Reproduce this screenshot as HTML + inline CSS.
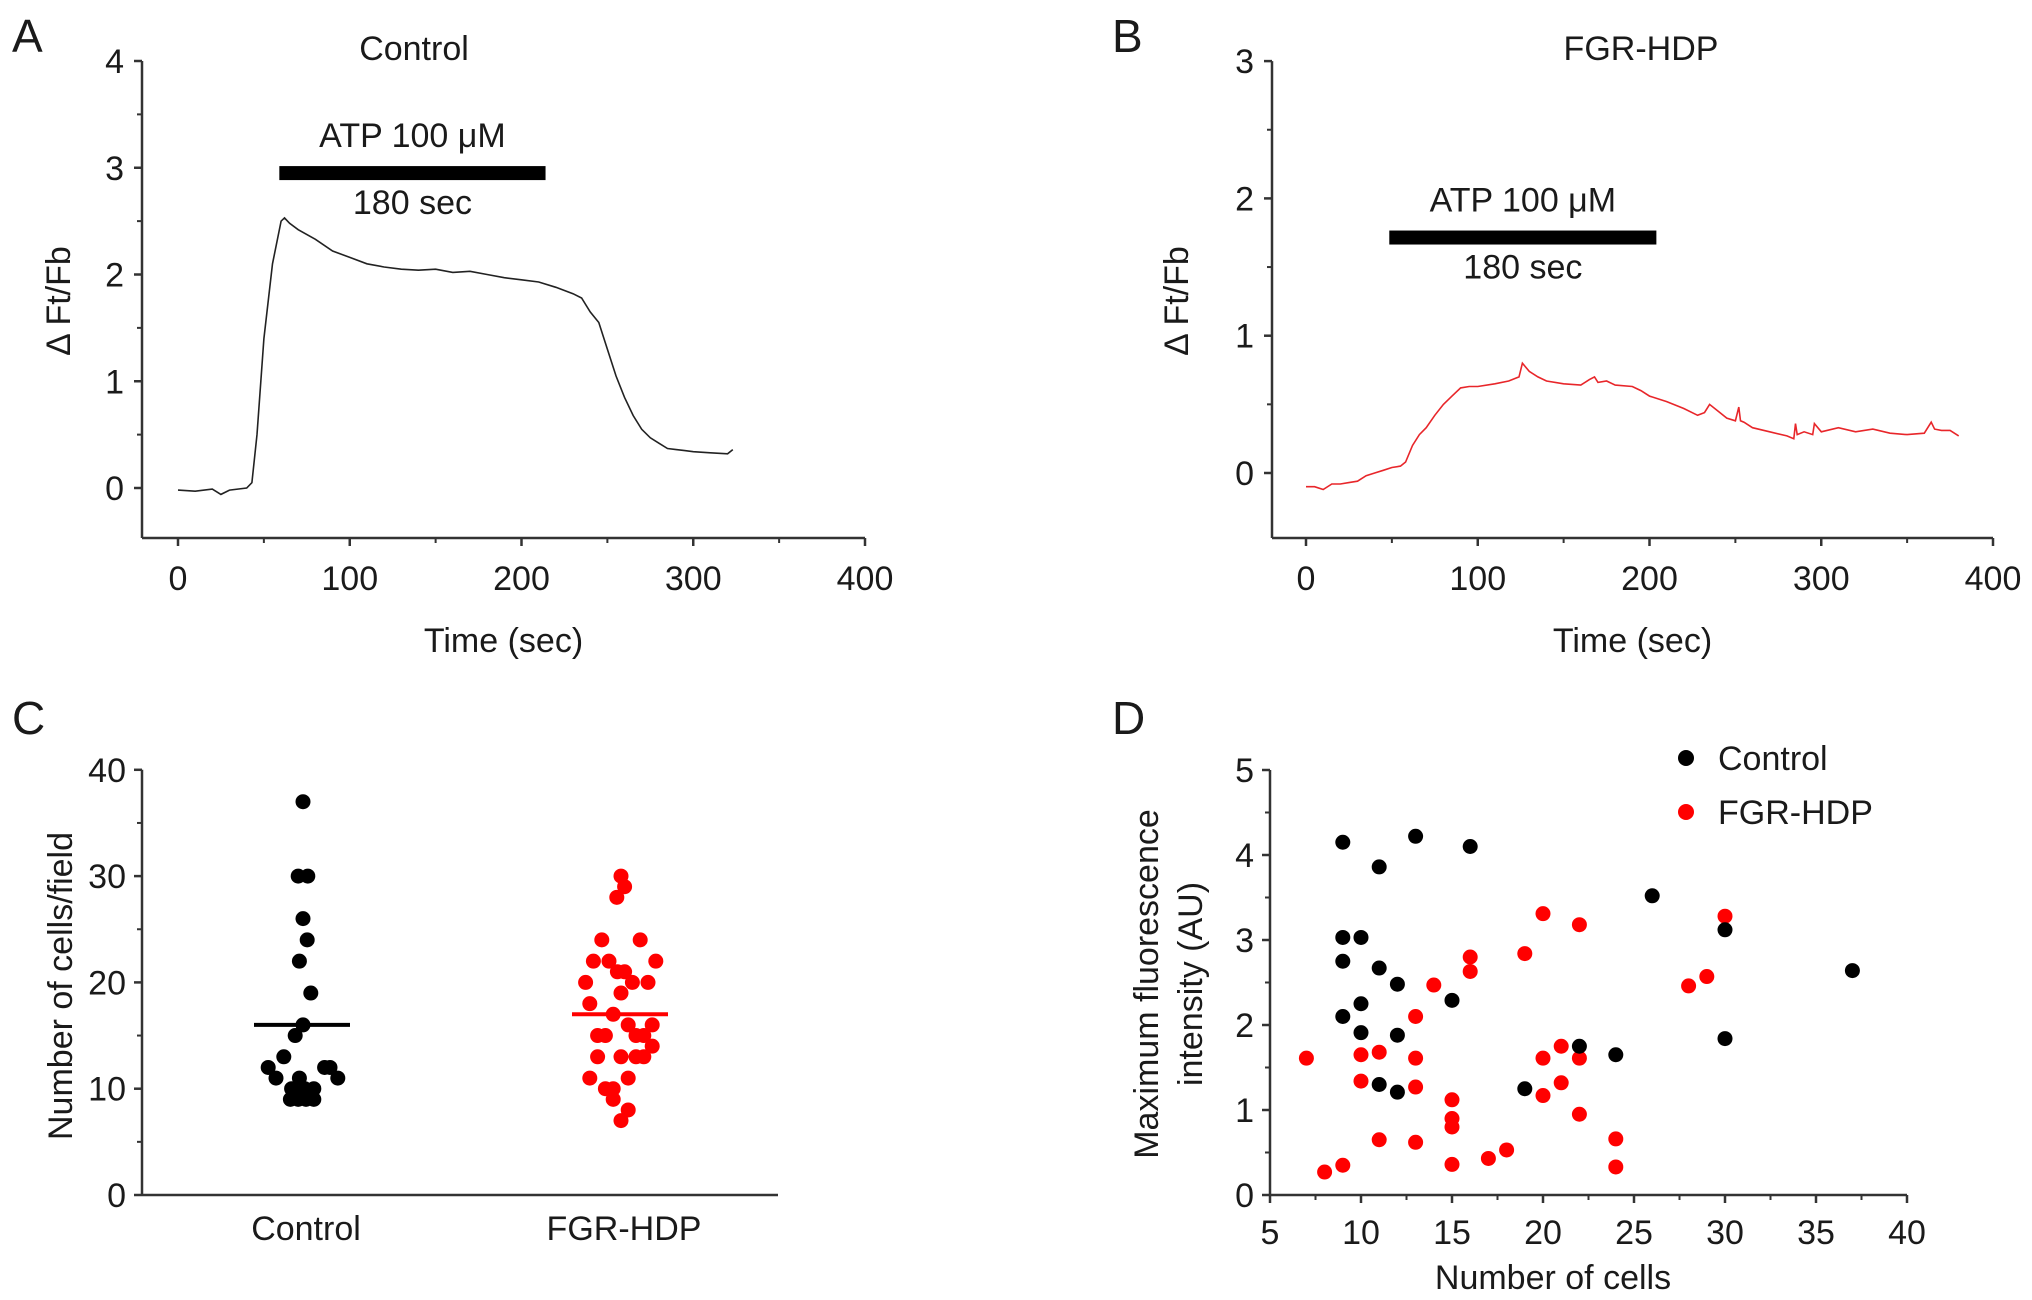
<!DOCTYPE html>
<html><head><meta charset="utf-8">
<style>
html,body{margin:0;padding:0;background:#fff;overflow:hidden;}
svg{display:block;font-family:"Liberation Sans",Arial,sans-serif;}
text{fill:#1a1a1a;}
</style></head>
<body>
<svg id="fig" width="2032" height="1300" viewBox="0 0 2032 1300" xmlns="http://www.w3.org/2000/svg">
<g id="root"></g>
</svg>
<script>
// ---------- Data ----------
const aTime = [0,10,20,25,30,40,43,46,50,55,60,62,65,70,80,90,100,110,120,130,140,150,160,170,180,190,200,210,220,230,235,240,245,250,255,260,265,270,275,280,285,290,295,300,310,320,323];
const aVal  = [-0.02,-0.03,-0.01,-0.06,-0.02,0,0.05,0.5,1.4,2.1,2.5,2.53,2.48,2.42,2.33,2.22,2.16,2.1,2.07,2.05,2.04,2.05,2.02,2.03,2.0,1.97,1.95,1.93,1.88,1.82,1.78,1.65,1.55,1.3,1.05,0.85,0.68,0.55,0.47,0.42,0.37,0.36,0.35,0.34,0.33,0.32,0.36];
const bTime = [0,5,10,15,20,25,30,35,40,45,50,55,58,62,66,70,75,80,85,90,95,100,110,118,124,126,130,135,140,150,160,165,168,170,175,180,190,195,200,210,220,228,232,235,240,245,250,252,253,255,260,270,280,284,285,286,290,295,296,300,310,320,330,340,350,360,364,366,370,375,380];
const bVal  = [-0.1,-0.1,-0.12,-0.08,-0.08,-0.07,-0.06,-0.02,0,0.02,0.04,0.05,0.08,0.2,0.28,0.33,0.42,0.5,0.56,0.62,0.63,0.63,0.65,0.67,0.7,0.8,0.74,0.7,0.67,0.65,0.64,0.68,0.7,0.66,0.67,0.64,0.63,0.6,0.56,0.52,0.47,0.42,0.44,0.5,0.45,0.4,0.38,0.48,0.38,0.37,0.33,0.3,0.27,0.25,0.36,0.28,0.3,0.28,0.36,0.3,0.33,0.3,0.32,0.29,0.28,0.29,0.37,0.32,0.31,0.31,0.27];
const xTicksAB = [0,100,200,300,400];
const yTicksA = [0,1,2,3,4];
const yTicksB = [0,1,2,3];
const cCategories = ["Control","FGR-HDP"];
const cControl = [37,30,30,26,24,22,19,16,15,13,12,12,12,11,11,11,10,10,10,9,9,9,9];
const cControlJitter = [0,-0.08,0.08,0,0.07,-0.06,0.13,0,-0.13,-0.32,-0.58,0.36,0.45,-0.45,-0.06,0.58,-0.19,0.03,0.18,-0.21,-0.08,0.05,0.18];
const cFgr = [30,29,28,24,24,22,22,22,21,21,20,20,20,19,18,17,16,16,15,15,15,15,14,13,13,13,13,11,11,10,10,9,8,7];
const cFgrJitter = [0,0.06,-0.07,-0.32,0.32,-0.46,-0.2,0.58,-0.06,0.06,-0.59,0.19,0.45,0,-0.52,-0.13,0.12,0.52,-0.39,-0.26,0.25,0.38,0.52,-0.39,0,0.25,0.38,-0.52,0.12,-0.26,-0.13,-0.13,0.12,0];
const cMeans = [16,17];
const yTicksC = [0,10,20,30,40];
const dCtrlX = [9,13,16,11,26,9,10,30,9,11,37,12,15,10,9,10,12,30,22,24,11,12,19];
const dCtrlY = [4.15,4.22,4.1,3.86,3.52,3.03,3.03,3.12,2.75,2.67,2.64,2.48,2.29,2.25,2.1,1.91,1.88,1.84,1.75,1.65,1.3,1.21,1.25];
const dFgrX = [7,8,9,10,10,11,11,13,13,13,13,14,15,15,15,15,16,16,17,18,19,20,20,20,21,21,22,22,22,24,24,28,29,30];
const dFgrY = [1.61,0.27,0.35,1.65,1.34,1.68,0.65,2.1,1.61,1.27,0.62,2.47,1.12,0.9,0.8,0.36,2.8,2.63,0.43,0.53,2.84,3.31,1.61,1.17,1.75,1.32,3.18,1.61,0.95,0.66,0.33,2.46,2.57,3.28];
const xTicksD = [5,10,15,20,25,30,35,40];
const yTicksD = [0,1,2,3,4,5];

const NS="http://www.w3.org/2000/svg";
const root=document.getElementById('root');
function el(tag,attrs,parent,txt){const e=document.createElementNS(NS,tag);for(const k in attrs)e.setAttribute(k,attrs[k]);if(txt!==undefined)e.textContent=txt;(parent||root).appendChild(e);return e;}
function grp(name){const g=el('g',{});


return g;}
const AX='#333';

function axesTrace(o){
  const g=grp(o.name);
  const X=v=>o.x0+(v-o.xmin)*o.xs, Y=v=>o.y0-(v)*o.ys;
  const ya=el('line',{x1:o.axX,y1:Y(o.ymax),x2:o.axX,y2:o.axBot,stroke:AX,'stroke-width':2.5},g);
  
  
  const xa=el('line',{x1:o.axX,y1:o.axBot,x2:X(o.xmax),y2:o.axBot,stroke:AX,'stroke-width':2.5},g);
  
  
  o.yTicks.forEach(v=>{
    el('line',{x1:o.axX-8,y1:Y(v),x2:o.axX,y2:Y(v),stroke:AX,'stroke-width':2.5},g);
    if(v+0.5<=o.ymax) el('line',{x1:o.axX-5,y1:Y(v+0.5),x2:o.axX,y2:Y(v+0.5),stroke:AX,'stroke-width':2},g);
    const t=el('text',{x:o.axX-18,y:Y(v)+12,'font-size':34,'text-anchor':'end'},g,String(v));
    
    
  });
  o.xTicks.forEach((v,i)=>{
    el('line',{x1:X(v),y1:o.axBot,x2:X(v),y2:o.axBot+8,stroke:AX,'stroke-width':2.5},g);
    if(i<o.xTicks.length-1) el('line',{x1:X(v+50),y1:o.axBot,x2:X(v+50),y2:o.axBot+5,stroke:AX,'stroke-width':2},g);
    const t=el('text',{x:X(v),y:590,'font-size':34,'text-anchor':'middle'},g,String(v));
    
    
  });
  const pts=o.tx.map((t,i)=>X(t).toFixed(1)+','+Y(o.ty[i]).toFixed(1)).join(' ');
  const pl=el('polyline',{points:pts,fill:'none',stroke:o.color,'stroke-width':1.6},g);
  
  
  const by=Y(o.barY);
  const bar=el('rect',{x:X(o.barT[0]),y:by-7,width:X(o.barT[1])-X(o.barT[0]),height:14,fill:'#000'},g);
  
  
  const cx=(X(o.barT[0])+X(o.barT[1]))/2;
  const t1=el('text',{x:cx,y:by-26,'font-size':34,'text-anchor':'middle'},g,'ATP 100 μM');
  
  
  const t2=el('text',{x:cx,y:by+41,'font-size':34,'text-anchor':'middle'},g,'180 sec');
  
  
  const tt=el('text',{x:o.titleX,y:60,'font-size':34,'text-anchor':'middle'},g,o.title);
  
  
  const xl=el('text',{x:(o.axX+X(o.xmax))/2,y:652,'font-size':34,'text-anchor':'middle'},g,'Time (sec)');
  
  
  const yl=el('text',{x:0,y:0,'font-size':34,'text-anchor':'middle',transform:`translate(${o.ylX},301) rotate(-90)`},g,'Δ Ft/Fb');
  
  
  const pl2=el('text',{x:o.letterX,y:52,'font-size':46},g,o.letter);
  
  
}

axesTrace({name:'panel-a',x0:178,xmin:0,xs:1.7175,y0:488,ys:106.75,axX:142,axBot:538,xmax:400,ymax:4,
  yTicks:yTicksA,xTicks:xTicksAB,tx:aTime,ty:aVal,color:'#222',barT:[59,214],barY:2.95,
  title:'Control',titleX:414,ylX:70,letter:'A',letterX:12});
axesTrace({name:'panel-b',x0:1306,xmin:0,xs:1.7175,y0:473,ys:137.3,axX:1272,axBot:538,xmax:400,ymax:3,
  yTicks:yTicksB,xTicks:xTicksAB,tx:bTime,ty:bVal,color:'#e8262a',barT:[48.5,204],barY:1.715,
  title:'FGR-HDP',titleX:1641,ylX:1188,letter:'B',letterX:1112});

// Panel C
(function(){
  const g=grp('panel-c');
  const axX=142,y0=1195,ys=10.63,xEnd=778;
  const Y=v=>y0-v*ys;
  const catX=[303,621], jw=60;
  el('line',{x1:axX,y1:Y(40),x2:axX,y2:y0,stroke:AX,'stroke-width':2.5},g);
  el('line',{x1:axX,y1:y0,x2:xEnd,y2:y0,stroke:AX,'stroke-width':2.5},g);
  yTicksC.forEach(v=>{
    el('line',{x1:axX-8,y1:Y(v),x2:axX,y2:Y(v),stroke:AX,'stroke-width':2.5},g);
    if(v<40) el('line',{x1:axX-5,y1:Y(v+5),x2:axX,y2:Y(v+5),stroke:AX,'stroke-width':2},g);
    const t=el('text',{x:axX-16,y:Y(v)+12,'font-size':34,'text-anchor':'end'},g,String(v));
    
    
  });
  cCategories.forEach((c,i)=>{
    const t=el('text',{x:catX[i]+3,y:1240,'font-size':34,'text-anchor':'middle'},g,c);
    
    
  });
  const series=[[cControl,cControlJitter,'#000'],[cFgr,cFgrJitter,'#f00']];
  series.forEach((s,i)=>{
    s[0].forEach((v,j)=>{
      const d=el('circle',{cx:catX[i]+s[1][j]*jw,cy:Y(v),r:7.5,fill:s[2]},g);
      
      
    });
    const m=el('line',{x1:catX[i]-49,y1:Y(cMeans[i]),x2:catX[i]+47,y2:Y(cMeans[i]),stroke:s[2],'stroke-width':4},g);
    
    
  });
  const yl=el('text',{x:0,y:0,'font-size':34,'text-anchor':'middle',transform:'translate(72,986) rotate(-90)'},g,'Number of cells/field');
  
  
  const pl=el('text',{x:12,y:734,'font-size':46},g,'C');
  
  
})();

// Panel D
(function(){
  const g=grp('panel-d');
  const axX=1270,y0=1195,ys=85,xs=18.2;
  const X=v=>axX+(v-5)*xs, Y=v=>y0-v*ys;
  el('line',{x1:axX,y1:Y(5),x2:axX,y2:y0,stroke:AX,'stroke-width':2.5},g);
  el('line',{x1:axX,y1:y0,x2:X(40),y2:y0,stroke:AX,'stroke-width':2.5},g);
  yTicksD.forEach(v=>{
    el('line',{x1:axX-8,y1:Y(v),x2:axX,y2:Y(v),stroke:AX,'stroke-width':2.5},g);
    if(v<5) el('line',{x1:axX-5,y1:Y(v+0.5),x2:axX,y2:Y(v+0.5),stroke:AX,'stroke-width':2},g);
    const t=el('text',{x:axX-16,y:Y(v)+12,'font-size':34,'text-anchor':'end'},g,String(v));
    
    
  });
  xTicksD.forEach((v,i)=>{
    el('line',{x1:X(v),y1:y0,x2:X(v),y2:y0+8,stroke:AX,'stroke-width':2.5},g);
    if(i<xTicksD.length-1) el('line',{x1:X(v+2.5),y1:y0,x2:X(v+2.5),y2:y0+5,stroke:AX,'stroke-width':2},g);
    const t=el('text',{x:X(v),y:1244,'font-size':34,'text-anchor':'middle'},g,String(v));
    
    
  });
  dFgrX.forEach((x,i)=>{
    const d=el('circle',{cx:X(x),cy:Y(dFgrY[i]),r:7.5,fill:'#f00'},g);
    
    
  });
  dCtrlX.forEach((x,i)=>{
    const d=el('circle',{cx:X(x),cy:Y(dCtrlY[i]),r:7.5,fill:'#000'},g);
    
    
  });
  const l1=el('circle',{cx:1686,cy:758,r:8,fill:'#000'},g);
  
  
  const l1t=el('text',{x:1718,y:770,'font-size':34},g,'Control');
  
  
  const l2=el('circle',{cx:1686,cy:812,r:8,fill:'#f00'},g);
  
  
  const l2t=el('text',{x:1718,y:824,'font-size':34},g,'FGR-HDP');
  
  
  const xl=el('text',{x:1553,y:1289,'font-size':34,'text-anchor':'middle'},g,'Number of cells');
  
  
  const yl1=el('text',{x:0,y:0,'font-size':34,'text-anchor':'middle',transform:'translate(1158,984) rotate(-90)'},g,'Maximum fluorescence');
  
  
  const yl2=el('text',{x:0,y:0,'font-size':34,'text-anchor':'middle',transform:'translate(1202,984) rotate(-90)'},g,'intensity (AU)');
  
  
  const pl=el('text',{x:1112,y:734,'font-size':46},g,'D');
  
  
})();
</script>
</body></html>
